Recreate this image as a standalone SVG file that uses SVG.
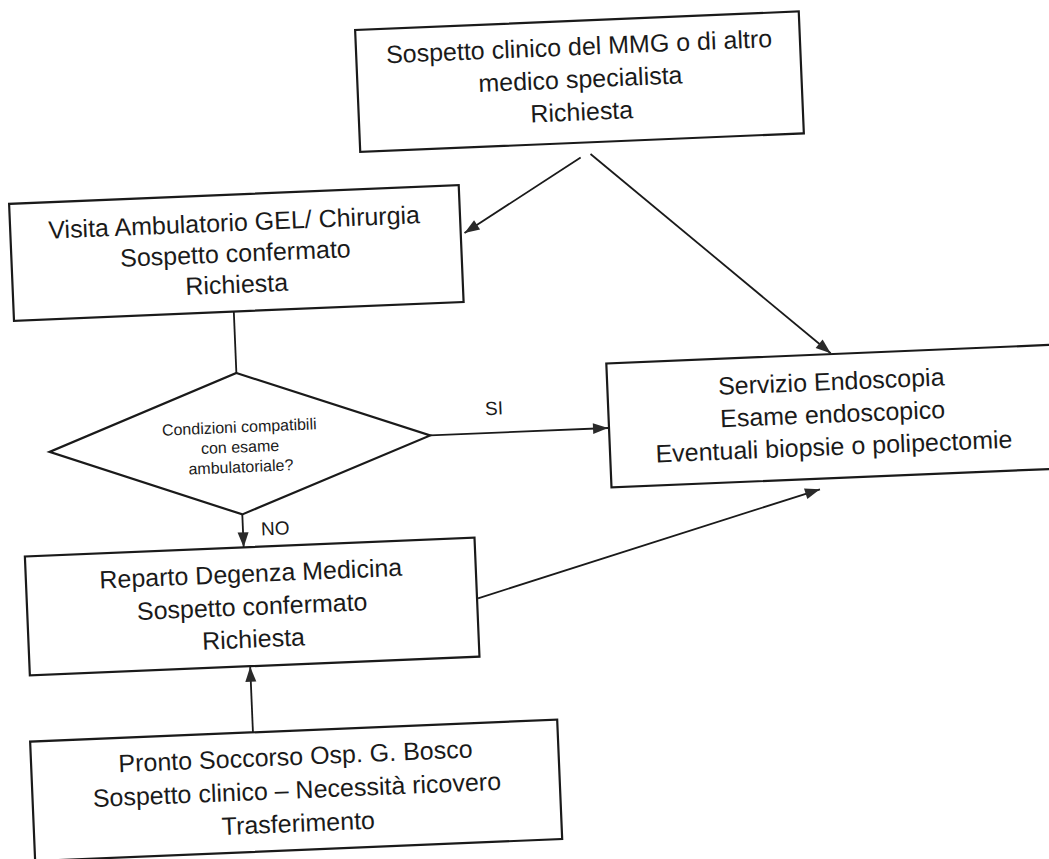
<svg xmlns="http://www.w3.org/2000/svg" width="1049" height="859" viewBox="0 0 1049 859">
<style>
.box{fill:#fff;stroke:#1a1a1a;stroke-width:2.2}
.t{font-family:"Liberation Sans",Arial,sans-serif;font-size:25px;fill:#1a1a1a;text-anchor:middle}
.s{font-size:16px}
.lbl{font-family:"Liberation Sans",Arial,sans-serif;font-size:19px;fill:#1a1a1a}
.conn{stroke:#1a1a1a;stroke-width:1.8;fill:none}
</style>
<defs>
<marker id="ah" markerUnits="userSpaceOnUse" markerWidth="15" markerHeight="11" refX="15" refY="5.5" orient="auto" overflow="visible">
<path d="M0,0 L15,5.5 L0,11 z" fill="#2a2a2a"/>
</marker>
</defs>
<rect width="1049" height="859" fill="#fff"/>
<g transform="rotate(-2.4 524.5 429.5)">
<g id="connectors">
<line class="conn" x1="592" y1="160" x2="472.8" y2="230.7" marker-end="url(#ah)"/>
<line class="conn" x1="602" y1="157" x2="833.6" y2="366.2" marker-end="url(#ah)"/>
<line class="conn" x1="239" y1="299.5" x2="239" y2="361"/>
<line class="conn" x1="430" y1="431.5" x2="608" y2="431.5" marker-end="url(#ah)"/>
<line class="conn" x1="239" y1="502.5" x2="239" y2="535.5" marker-end="url(#ah)"/>
<line class="conn" x1="240.5" y1="720.5" x2="240.5" y2="655" marker-end="url(#ah)"/>
<line class="conn" x1="471" y1="596.2" x2="817.2" y2="501.6" marker-end="url(#ah)"/>
<text class="lbl" x="494.9" y="413.5" text-anchor="middle">SI</text>
<text class="lbl" x="257" y="524.3">NO</text>
</g>
<g id="n-sospetto">
<rect class="box" x="372" y="23.3" width="444" height="122"/>
<text class="t"><tspan x="595" y="57.7">Sospetto clinico del MMG o di altro</tspan><tspan x="595" y="90.3">medico specialista</tspan><tspan x="595" y="123">Richiesta</tspan></text>
</g>
<g id="n-gel">
<rect class="box" x="19" y="182.5" width="450" height="117"/>
<text class="t"><tspan x="243" y="219">Visita Ambulatorio GEL/ Chirurgia</tspan><tspan x="243" y="250">Sospetto confermato</tspan><tspan x="243" y="281">Richiesta</tspan></text>
</g>
<g id="n-decision">
<polygon class="box" points="239,361 430,431.5 239,502.5 49,432"/>
<text class="t s"><tspan x="239.6" y="420.5">Condizioni compatibili</tspan><tspan x="239.6" y="440.5">con esame</tspan><tspan x="239.6" y="460.5">ambulatoriale?</tspan></text>
</g>
<g id="n-endoscopia">
<rect class="box" x="609" y="367" width="450" height="124"/>
<text class="t"><tspan x="833" y="403">Servizio Endoscopia</tspan><tspan x="833" y="435.5">Esame endoscopico</tspan><tspan x="833" y="468">Eventuali biopsie o polipectomie</tspan></text>
</g>
<g id="n-reparto">
<rect class="box" x="20" y="535.5" width="450" height="119"/>
<text class="t"><tspan x="245" y="570.5">Reparto Degenza Medicina</tspan><tspan x="245" y="603.5">Sospetto confermato</tspan><tspan x="245" y="636">Richiesta</tspan></text>
</g>
<g id="n-pronto">
<rect class="box" x="17.5" y="720.7" width="527.5" height="119.5"/>
<text class="t"><tspan x="282" y="755">Pronto Soccorso Osp. G. Bosco</tspan><tspan x="282" y="788.5">Sospetto clinico – Necessità ricovero</tspan><tspan x="282" y="822">Trasferimento</tspan></text>
</g>
</g>
</svg>
